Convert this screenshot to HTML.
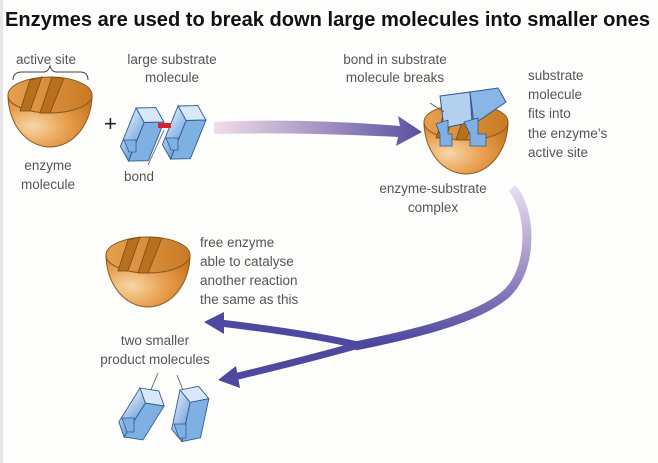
<!DOCTYPE html>
<html><head><meta charset="utf-8"><style>
html,body{margin:0;padding:0;background:#fdfdfb;}
svg{display:block;}
text{font-family:"Liberation Sans",sans-serif;fill:#555;font-size:13.5px;}
</style></head><body>
<svg width="658" height="463" viewBox="0 0 658 463" xmlns="http://www.w3.org/2000/svg">
<defs>
<radialGradient id="eg" cx="0.3" cy="0.6" r="0.8">
<stop offset="0" stop-color="#f7d6a8"/><stop offset="0.5" stop-color="#e8a050"/><stop offset="1" stop-color="#c8741c"/>
</radialGradient>
<linearGradient id="top" x1="0" y1="0" x2="1" y2="0"><stop offset="0" stop-color="#e6a050"/><stop offset="1" stop-color="#c97a25"/></linearGradient>
<linearGradient id="a1" x1="0" y1="0" x2="1" y2="0"><stop offset="0" stop-color="#f1dde8"/><stop offset="1" stop-color="#5a4fa0"/></linearGradient>
<linearGradient id="a2" gradientUnits="userSpaceOnUse" x1="0" y1="185" x2="0" y2="345"><stop offset="0" stop-color="#ebdff0"/><stop offset="0.6" stop-color="#9385c0"/><stop offset="1" stop-color="#4b45a0"/></linearGradient>
<linearGradient id="bl" x1="0" y1="0" x2="1" y2="1"><stop offset="0" stop-color="#cfe2f7"/><stop offset="1" stop-color="#6e9fd6"/></linearGradient>
<g id="enz">
<path d="M-42,0 A42,18 0 0 0 42,0 A42,52 0 0 1 -42,0 Z" fill="url(#eg)" stroke="#8a5a20" stroke-width="1"/>
<ellipse cx="0" cy="0" rx="42" ry="18" fill="url(#top)" stroke="#8a5a20" stroke-width="1"/>
<path d="M-20,-15 L-8,-18 L-20,16 L-30,16 Z" fill="#b8701e" stroke="#7a4a15" stroke-width="0.8"/>
<path d="M2,-18 L14,-17 L0,18 L-10,18 Z" fill="#b8701e" stroke="#7a4a15" stroke-width="0.8"/>
</g>
<g id="blk">
<path d="M0,0 L14,-6 L24,2 L10,8 Z" fill="#d8e8f8" stroke="#2c5b94" stroke-width="0.7"/>
<path d="M0,0 L10,8 L10,40 L0,32 Z" fill="url(#bl)" stroke="#2c5b94" stroke-width="0.7"/>
<path d="M10,8 L24,2 L24,34 L10,40 Z" fill="#7fb0e2" stroke="#2c5b94" stroke-width="0.7"/>
</g>
</defs>
<rect x="0" y="0" width="3" height="463" fill="#e6e6e6"/>
<text x="5" y="26" style="font-size:20px;font-weight:bold;fill:#111" textLength="645" lengthAdjust="spacingAndGlyphs">Enzymes are used to break down large molecules into smaller ones</text>

<!-- enzyme 1 -->
<text x="16" y="64">active site</text>
<path d="M13,80 Q13,72 22,72 L44,72 Q48,72 50,66 Q52,72 56,72 L80,72 Q88,72 88,80" fill="none" stroke="#444" stroke-width="1"/>
<use href="#enz" x="50" y="95"/>
<text x="48" y="170" text-anchor="middle">enzyme</text>
<text x="48" y="189" text-anchor="middle">molecule</text>
<text x="104" y="131" style="font-size:22px;fill:#222">+</text>

<!-- substrate -->
<text x="172" y="64" text-anchor="middle">large substrate</text>
<text x="172" y="82" text-anchor="middle">molecule</text>
<g transform="translate(136,108) rotate(22) scale(1.3)"><use href="#blk"/></g>
<g transform="translate(178,106) rotate(22) scale(1.3)"><use href="#blk"/></g>
<path d="M124,140 h12 v12 h-7 z M166,138 h12 v12 h-7 z" fill="#7fb0e2" stroke="#2c5b94" stroke-width="0.8"/>
<rect x="158" y="123" width="13" height="5" fill="#d8232a"/>
<line x1="164" y1="130" x2="148" y2="165" stroke="#555" stroke-width="0.8"/>
<text x="124" y="181">bond</text>

<!-- arrow 1 -->
<path d="M214,122 Q300,118 400,126 L398,116 L422,132 L396,146 L398,137 Q300,132 214,134 Z" fill="url(#a1)"/>

<!-- enzyme 2 -->
<text x="395" y="64" text-anchor="middle">bond in substrate</text>
<text x="395" y="82" text-anchor="middle">molecule breaks</text>
<use href="#enz" x="466" y="122"/>
<path d="M440,96 L470,92 L472,122 L444,128 Z" fill="#b4d0ef" stroke="#2c5b94" stroke-width="1"/>
<path d="M470,92 L498,88 L506,102 L474,124 Z" fill="#8ab6e6" stroke="#2c5b94" stroke-width="1"/>
<path d="M436,124 L448,120 L448,134 L452,134 L452,146 L440,146 L440,134 Z M464,122 L478,118 L478,134 L486,134 L486,146 L470,146 L470,134 Z" fill="#7fb0e2" stroke="#2c5b94" stroke-width="0.8"/>
<line x1="430" y1="103" x2="444" y2="112" stroke="#555" stroke-width="0.8"/>
<text x="528" y="80">substrate</text>
<text x="528" y="99">molecule</text>
<text x="528" y="118">fits into</text>
<text x="528" y="138">the enzyme’s</text>
<text x="528" y="157">active site</text>
<text x="433" y="193" text-anchor="middle">enzyme-substrate</text>
<text x="433" y="212" text-anchor="middle">complex</text>

<!-- curved arrow -->
<path d="M512,188 C532,210 534,270 505,295 C475,320 410,335 355,346" fill="none" stroke="url(#a2)" stroke-width="9"/>
<path d="M362,346 C320,336 262,328 220,323" fill="none" stroke="#4e48a0" stroke-width="7"/>
<polygon points="224,312 204,322 224,334" fill="#4e48a0"/>
<path d="M362,344 C320,356 280,366 234,377" fill="none" stroke="#4e48a0" stroke-width="7"/>
<polygon points="236,366 218,380 240,388" fill="#4e48a0"/>

<!-- enzyme 3 -->
<use href="#enz" x="148" y="255"/>
<text x="200" y="247">free enzyme</text>
<text x="200" y="266">able to catalyse</text>
<text x="200" y="285">another reaction</text>
<text x="200" y="304">the same as this</text>
<text x="155" y="345" text-anchor="middle">two smaller</text>
<text x="155" y="364" text-anchor="middle">product molecules</text>
<line x1="158" y1="373" x2="150" y2="392" stroke="#555" stroke-width="0.8"/>
<line x1="177" y1="375" x2="185" y2="395" stroke="#555" stroke-width="0.8"/>

<!-- products -->
<g transform="translate(140,388) rotate(32) scale(1.25)"><use href="#blk"/></g>
<g transform="translate(180,390) rotate(12) scale(1.25)"><use href="#blk"/></g>
<path d="M122,418 h12 v14 h-7 z M174,424 h12 v14 h-7 z" fill="#7fb0e2" stroke="#2c5b94" stroke-width="0.8"/>
</svg>
</body></html>
